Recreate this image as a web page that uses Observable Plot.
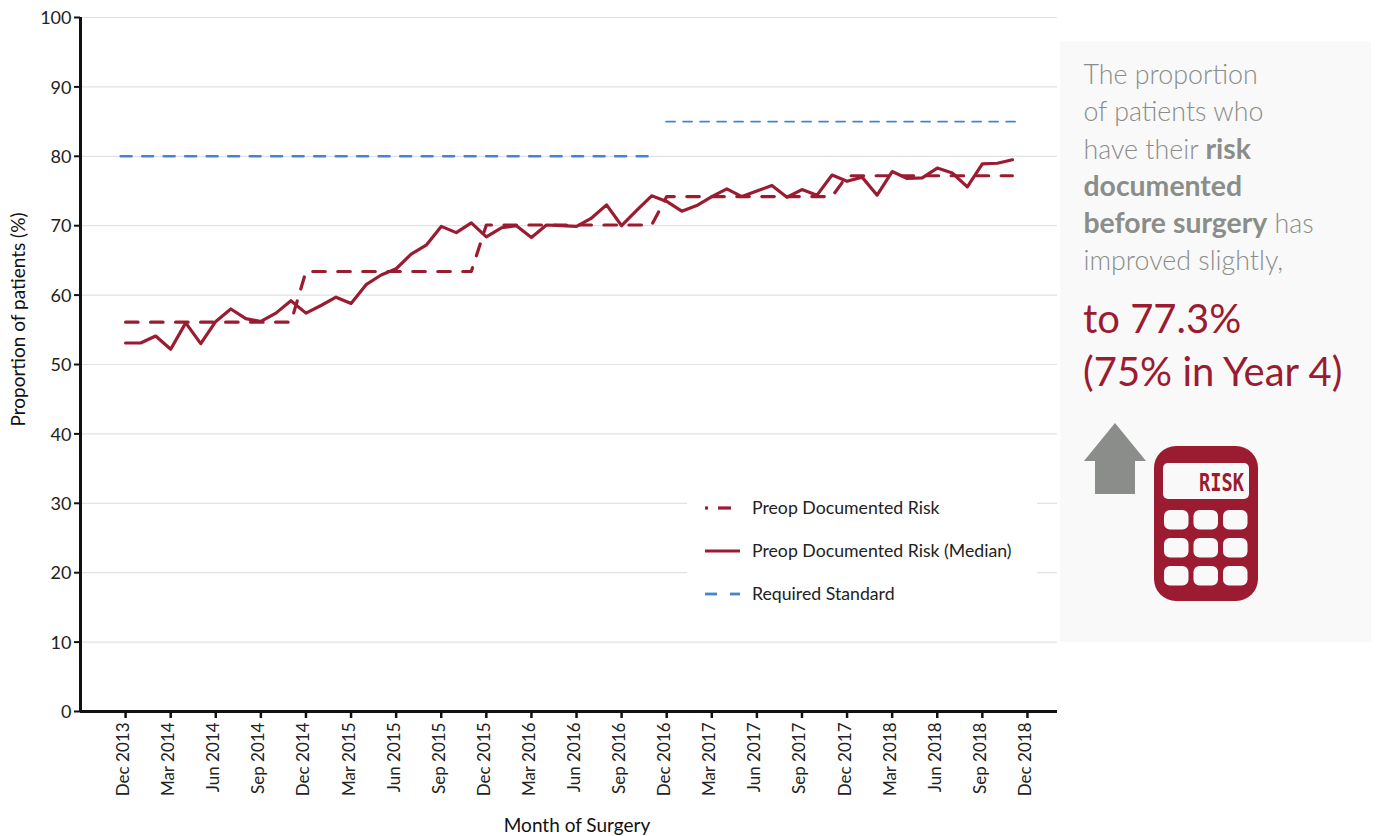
<!DOCTYPE html>
<html>
<head>
<meta charset="utf-8">
<script src="https://cdn.jsdelivr.net/npm/d3@7"></script>
<script src="https://cdn.jsdelivr.net/npm/@observablehq/plot@0.6"></script>
<style>
html,body{margin:0;padding:0;background:#fff;}
#stage{position:relative;width:1378px;height:836px;overflow:hidden;font-family:Lato,sans-serif;}
#chart{position:absolute;left:0;top:0;}
.abs{position:absolute;white-space:nowrap;}
#panel{position:absolute;left:1060px;top:41px;width:311px;height:601px;background:#f9f9f9;}
.pl{font-size:26.8px;font-weight:300;color:#8b8d8a;left:1083.5px;line-height:36px;}
.pl b{font-weight:700;font-size:28.4px;}
.big{font-size:40px;font-weight:400;color:#9b1c31;left:1083px;line-height:50px;}
#legend{position:absolute;left:687px;top:490px;width:350px;height:125px;background:#fff;}
.lt{font-size:17.7px;color:#222;left:752px;line-height:20px;}
</style>
</head>
<body>
<div id="stage">
  <div id="chart"></div>
  <div id="legend"></div>
  <div id="panel"></div>
</div>
<script>
// Months since Dec 2013
const tickMonths = [0,3,6,9,12,15,18,21,24,27,30,33,36,39,42,45,48,51,54,57,60];
const tickLabels = ["Dec 2013","Mar 2014","Jun 2014","Sep 2014","Dec 2014","Mar 2015","Jun 2015","Sep 2015","Dec 2015","Mar 2016","Jun 2016","Sep 2016","Dec 2016","Mar 2017","Jun 2017","Sep 2017","Dec 2017","Mar 2018","Jun 2018","Sep 2018","Dec 2018"];
const yTicks = [0,10,20,30,40,50,60,70,80,90,100];

const medianValues = [53.1,53.1,54.1,52.2,56.0,53.0,56.2,58.0,56.6,56.2,57.4,59.2,57.4,58.5,59.7,58.8,61.5,62.9,63.8,65.9,67.2,69.9,69.0,70.4,68.4,69.7,70.0,68.3,70.1,70.0,69.9,71.1,73.0,70.0,72.2,74.3,73.5,72.1,72.9,74.2,75.3,74.2,75.0,75.8,74.1,75.2,74.4,77.3,76.4,77.0,74.4,77.8,76.8,76.9,78.3,77.6,75.6,78.9,79.0,79.5];
const riskValues = [56.1,56.1,56.1,56.1,56.1,56.1,56.1,56.1,56.1,56.1,56.1,56.1,63.4,63.4,63.4,63.4,63.4,63.4,63.4,63.4,63.4,63.4,63.4,63.4,70.1,70.1,70.1,70.1,70.1,70.1,70.1,70.1,70.1,70.1,70.1,70.1,74.2,74.2,74.2,74.2,74.2,74.2,74.2,74.2,74.2,74.2,74.2,74.2,77.2,77.2,77.2,77.2,77.2,77.2,77.2,77.2,77.2,77.2,77.2,77.2];
const standardA = {months:[-0.33,35.06], values:[80,80]};
const standardB = {months:[35.96,59.2], values:[85,85]};

const legendItems = ["Preop Documented Risk","Preop Documented Risk (Median)","Required Standard"];
const panelLines = ["The proportion","of patients who","have their <b>risk</b>","<b>documented</b>","<b>before surgery</b> has","improved slightly,"];
const bigLines = ["to 77.3%","(75% in Year 4)"];

const RED = "#9b1c31", BLUE = "#4683d3", GRID = "#e2e2e2", INK = "#111";
const months = medianValues.map((_, i) => i);

const plot = Plot.plot({
  width: 1060, height: 836,
  marginLeft: 80, marginRight: 3, marginTop: 17, marginBottom: 125,
  style: {fontFamily: "Lato, sans-serif", background: "transparent", color: "#222"},
  x: {type: "linear", domain: [-3, 62]},
  y: {type: "linear", domain: [0, 100]},
  marks: [
    Plot.ruleY(yTicks.filter(d => d > 0), {stroke: GRID, strokeWidth: 1.2, strokeOpacity: 1}),
    Plot.axisY({ticks: yTicks, tickSize: 6, strokeWidth: 2, stroke: INK, label: null, tickFormat: () => ""}),
    Plot.axisY({ticks: yTicks, tickSize: 0, tickPadding: 9, dy: 1, fontSize: 18, label: null, tickFormat: d => d}),
    Plot.axisX({ticks: tickMonths, tickSize: 7, strokeWidth: 2.5, stroke: INK, tickFormat: () => "", label: null}),
    Plot.axisX({ticks: tickMonths, tickSize: 0, tickPadding: 11, dx: -2, fontSize: 17, tickRotate: -90, label: null,
      tickFormat: d => tickLabels[tickMonths.indexOf(d)]}),
    Plot.text(["Proportion of patients (%)"], {frameAnchor: "left", textAnchor: "middle", dx: -62, dy: -45, rotate: -90, fontSize: 19, fill: "#111"}),
    Plot.text(["Month of Surgery"], {frameAnchor: "bottom", dy: 114, fontSize: 19, fill: "#111", dx: 8, lineAnchor: "middle"}),
    Plot.ruleX([-3], {stroke: INK, strokeWidth: 3, strokeOpacity: 1}),
    Plot.ruleY([0], {stroke: INK, strokeWidth: 3, strokeOpacity: 1}),
    Plot.line(months, {x: d => d, y: d => riskValues[d], stroke: RED, strokeWidth: 3.2, strokeDasharray: "12.5,12.5", curve: "linear"}),
    Plot.line(months, {x: d => d, y: d => medianValues[d], stroke: RED, strokeWidth: 3.2, curve: "linear"}),
    Plot.line(standardA.months, {x: d => d, y: (d, i) => standardA.values[i], stroke: BLUE, strokeWidth: 2.4, strokeDasharray: "11,10.5"}),
    Plot.line(standardB.months, {x: d => d, y: (d, i) => standardB.values[i], stroke: BLUE, strokeWidth: 1.8, strokeDasharray: "9,8"})
  ]
});
document.getElementById("chart").appendChild(plot);

// Legend
const stage = document.getElementById("stage");
const legendY = [508, 551, 594];
legendItems.forEach((t, i) => {
  const el = document.createElement("div");
  el.className = "abs lt";
  el.style.top = (legendY[i] - 10) + "px";
  el.textContent = t;
  stage.appendChild(el);
});
const overlay = document.createElementNS("http://www.w3.org/2000/svg", "svg");
overlay.setAttribute("width", 1378); overlay.setAttribute("height", 836);
overlay.setAttribute("class", "abs");
overlay.style.left = "0"; overlay.style.top = "0";
overlay.innerHTML = `
  <line x1="705" x2="708" y1="508" y2="508" stroke="${RED}" stroke-width="3.2"/>
  <line x1="718" x2="731" y1="508" y2="508" stroke="${RED}" stroke-width="3.2"/>
  <line x1="705" x2="740" y1="551" y2="551" stroke="${RED}" stroke-width="3.2"/>
  <line x1="705" x2="717" y1="594" y2="594" stroke="${BLUE}" stroke-width="2.8"/>
  <line x1="730" x2="740" y1="594" y2="594" stroke="${BLUE}" stroke-width="2.8"/>
  <polygon points="1115,423 1146,461 1135,461 1135,494 1095,494 1095,461 1084,461" fill="#8b8d8a"/>
  <rect x="1154" y="446" width="104" height="155" rx="22" fill="${RED}"/>
  <rect x="1163" y="463" width="86" height="36" rx="5" fill="#f9f9f9"/>
  ${[510,538,566].map(y => [1164,1193.5,1223].map(x => `<rect x="${x}" y="${y}" width="24.5" height="19.5" rx="6" fill="#f9f9f9"/>`).join("")).join("")}
  <text x="1199" y="491" font-family="DejaVu Sans Mono" font-size="24" font-weight="700" fill="${RED}" textLength="45" lengthAdjust="spacingAndGlyphs">RISK</text>`;
stage.appendChild(overlay);

// Panel text
const panelTop = [56, 93, 130, 167, 204, 242];
panelLines.forEach((t, i) => {
  const el = document.createElement("div");
  el.className = "abs pl";
  el.style.top = panelTop[i] + "px";
  el.innerHTML = t;
  stage.appendChild(el);
});
const bigTop = [293, 346];
bigLines.forEach((t, i) => {
  const el = document.createElement("div");
  el.className = "abs big";
  el.style.top = bigTop[i] + "px";
  el.textContent = t;
  stage.appendChild(el);
});
</script>
</body>
</html>
